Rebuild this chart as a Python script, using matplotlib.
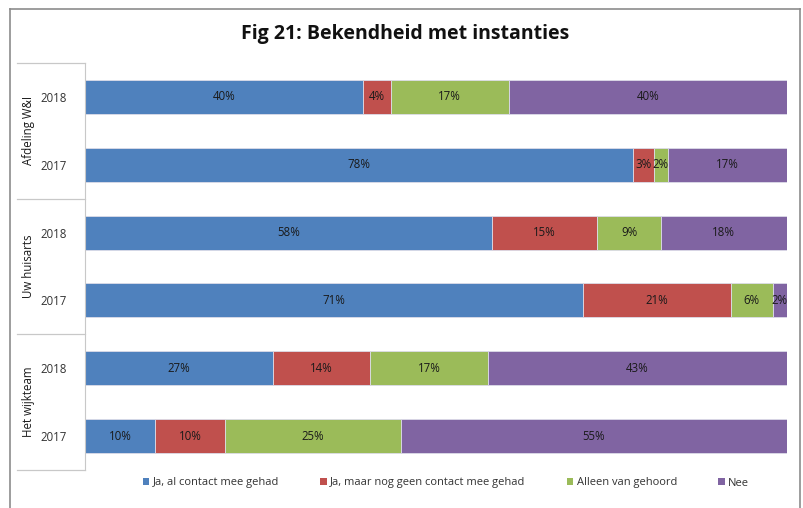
import matplotlib.pyplot as plt
from matplotlib.lines import Line2D
from matplotlib.patches import Patch
import matplotlib.transforms as mtransforms
import numpy as np

plt.rcParams['font.family'] = ['Open Sans', 'DejaVu Sans']

title = 'Fig 21: Bekendheid met instanties'
groups = ['Afdeling W&I', 'Uw huisarts', 'Het wijkteam']
years = ['2018', '2017']
series = ['Ja, al contact mee gehad', 'Ja, maar nog geen contact mee gehad',
          'Alleen van gehoord', 'Nee']
colors = ['#4F81BD', '#C0504D', '#9BBB59', '#8064A2']

# rows top to bottom: (group, year)
contact = [40, 78, 58, 71, 27, 10]
geen_contact = [4, 3, 15, 21, 14, 10]
gehoord = [17, 2, 9, 6, 17, 25]
nee = [40, 17, 18, 2, 43, 55]

W, H = 804, 508
fig = plt.figure(figsize=(W / 100, H / 100), dpi=100)

# outer chart frame (no bottom edge visible)
fx0, fx1, fy0 = 10 / W, 800 / W, 1 - 9 / H
for xs, ys in [([fx0, fx0], [0, fy0]), ([fx0, fx1], [fy0, fy0]), ([fx1, fx1], [fy0, 0])]:
    fig.add_artist(Line2D(xs, ys, color='#8c8c8c', lw=1.2, transform=fig.transFigure))

ax = fig.add_axes([85 / W, 1 - 470 / H, (787 - 85) / W, (470 - 63) / H])

data = np.array([contact, geen_contact, gehoord, nee], dtype=float)
totals = data.sum(axis=0)
shares = data / totals * 100
ypos = np.arange(len(contact)) + 0.5
left = np.zeros(len(contact))
for vals, raw, col, name in zip(shares, data, colors, series):
    bars = ax.barh(ypos, vals, left=left, height=0.5, color=col, label=name,
                   edgecolor='#dcdce8', linewidth=0.6)
    for b, v, r in zip(bars, vals, raw):
        ax.text(b.get_x() + b.get_width() / 2, b.get_y() + b.get_height() / 2,
                f'{int(r)}%', ha='center', va='center', fontsize=8.3, color='#1a1a1a')
    left += vals

ax.set_xlim(0, 100)
ax.set_ylim(len(contact), 0)
ax.set_xticks([])
ax.set_yticks(ypos)
ax.set_yticklabels(years * len(groups), fontsize=8.3, color='#333333')
ax.tick_params(axis='y', length=0, pad=13)
for s in ['top', 'right', 'bottom']:
    ax.spines[s].set_visible(False)
ax.spines['left'].set_color('#c8c8c8')

# group separators and labels
trans = mtransforms.blended_transform_factory(ax.transAxes, ax.transData)
xl = (17 - 85) / (787 - 85)
for k in range(len(groups) + 1):
    ax.add_line(Line2D([xl, 0], [2 * k, 2 * k], color='#c8c8c8', lw=0.9,
                       transform=trans, clip_on=False))
for k, g in enumerate(groups):
    ax.text((29 - 85) / (787 - 85), 2 * k + 1, g, rotation=90, ha='center', va='center',
            fontsize=8.3, color='#1a1a1a', transform=trans)

fig.text(405 / W, 1 - 34 / H, title, ha='center', va='center', fontsize=14,
         fontweight='bold', color='#111111')

handles = [Patch(facecolor=c, label=n) for c, n in zip(colors, series)]
fig.legend(handles=handles, loc='center', bbox_to_anchor=(446 / W, 1 - 483 / H), ncol=4,
           frameon=False, fontsize=8, handlelength=0.6, handleheight=0.6,
           handletextpad=0.3, columnspacing=3.7, labelcolor='#333333')

fig.savefig('out.png', dpi=100)
